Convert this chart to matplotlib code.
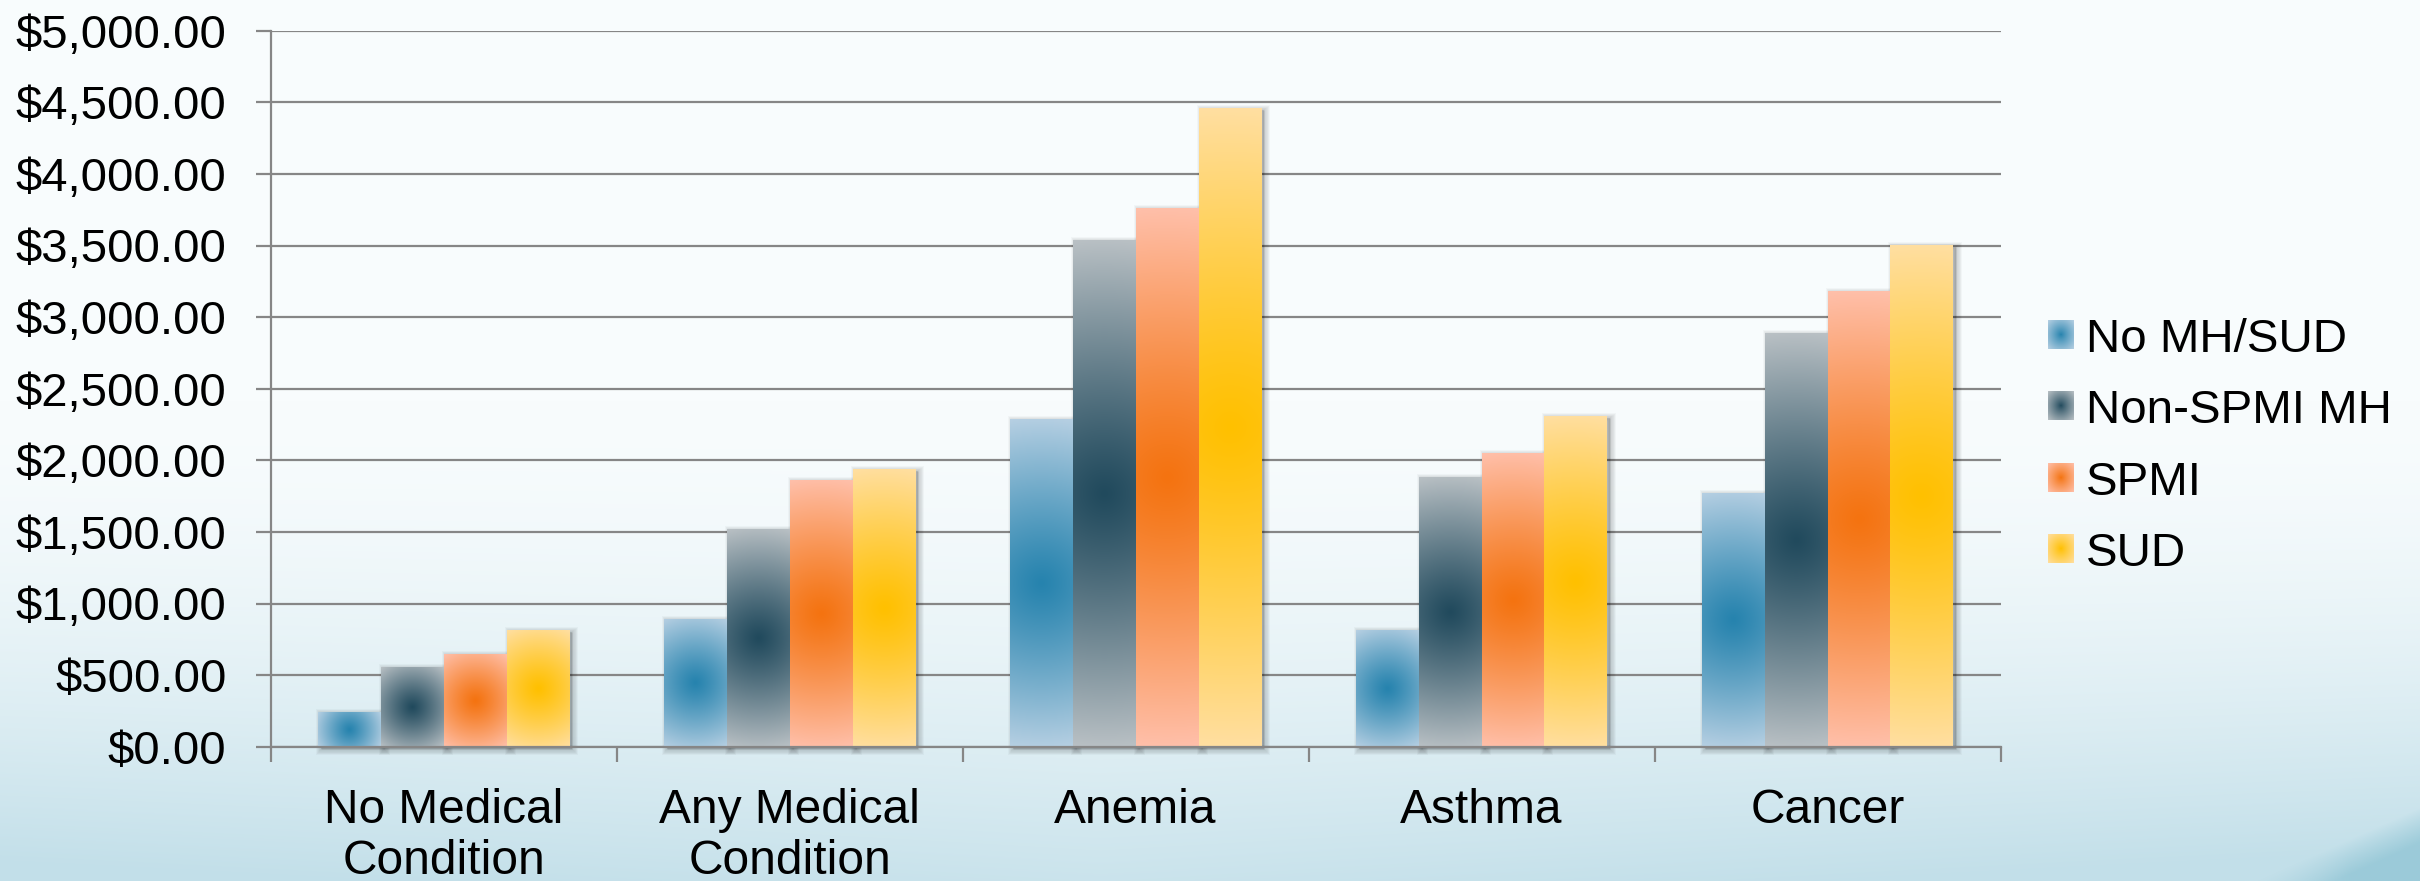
import numpy as np
import matplotlib
matplotlib.use("Agg")
import matplotlib.pyplot as plt
from matplotlib.patches import Rectangle, Patch
from matplotlib.legend_handler import HandlerBase
from matplotlib.image import BboxImage
from matplotlib.transforms import Bbox, TransformedBbox, offset_copy
from matplotlib.ticker import FuncFormatter

# ---- data -------------------------------------------------------------
categories = ["No Medical\nCondition", "Any Medical\nCondition", "Anemia", "Asthma", "Cancer"]
series_names = ["No MH/SUD", "Non-SPMI MH", "SPMI", "SUD"]
no_mh_sud = [244, 895, 2290, 817, 1774]
non_spmi_mh = [558, 1519, 3535, 1885, 2886]
spmi = [648, 1860, 3760, 2048, 3181]
sud = [815, 1937, 4458, 2306, 3502]
y_ticks = list(range(0, 5001, 500))

series_values = [no_mh_sud, non_spmi_mh, spmi, sud]
# (centre colour, edge colour) of each series' radial fill
series_colors = [("#2683ae", "#b7d0e3"),
                 ("#214a5d", "#bac1c5"),
                 ("#f47310", "#ffc0ab"),
                 ("#ffc000", "#ffdfa2")]

plt.rcParams["font.family"] = ["Liberation Sans", "DejaVu Sans"]

DPI = 100
W, H = 2420, 881
fig = plt.figure(figsize=(W / DPI, H / DPI), dpi=DPI)


def hex_rgb(c):
    c = c.lstrip("#")
    return np.array([int(c[i:i + 2], 16) for i in (0, 2, 4)], float) / 255


def radial_fill(w_px, h_px, c_center, c_edge, power=1.15):
    w_px = max(int(round(w_px)), 2)
    h_px = max(int(round(h_px)), 2)
    yy, xx = np.mgrid[0:h_px, 0:w_px].astype(float)
    cx, cy = (w_px - 1) / 2, (h_px - 1) / 2
    r = np.hypot(xx - cx, yy - cy) / np.hypot(w_px / 2, h_px / 2)
    t = np.clip(r, 0, 1) ** power
    c0, c1 = hex_rgb(c_center), hex_rgb(c_edge)
    return c0 * (1 - t[..., None]) + c1 * t[..., None]


# ---- background -------------------------------------------------------
bg = fig.add_axes([0, 0, 1, 1], zorder=-10)
bg.axis("off")
yy, xx = np.mgrid[0:H, 0:W].astype(float)
c_top = hex_rgb("#f8fcfd")
c_low = hex_rgb("#c2dfe9")
s = np.clip((yy - 400) / (H - 400), 0, 1) ** 1.7
s *= 0.85 + 0.25 * (np.abs(xx - 1100) / 1300)
s = np.clip(s, 0, 1)
img = c_top * (1 - s[..., None]) + c_low * s[..., None]
# darker swoosh in the lower right corner
y_curve = H + 25 - (xx - 2200) * 0.45
d = np.clip((yy - y_curve) / 35, 0, 1) * np.clip((xx - 2200) / 150, 0, 1)
c_sw = hex_rgb("#8fc4d4")
img = img * (1 - 0.75 * d[..., None]) + c_sw * 0.75 * d[..., None]
bg.imshow(img, extent=[0, 1, 0, 1], aspect="auto", origin="upper", interpolation="bilinear")
bg.set_xlim(0, 1)
bg.set_ylim(0, 1)

# ---- main axes --------------------------------------------------------
left_px, right_px, top_px, base_px = 270.7, 2000.5, 30.7, 746.7
ax = fig.add_axes([left_px / W, 1 - base_px / H, (right_px - left_px) / W, (base_px - top_px) / H])
ax.patch.set_alpha(0)
XLIM, YLIM = (-0.5, len(categories) - 0.5), (0, 5000)
ax.set_xlim(*XLIM)
ax.set_ylim(*YLIM)

grey = "#868686"
n_series = len(series_values)
bw = 1 / (n_series + 1.5)
x = np.arange(len(categories))

px_per_x = (right_px - left_px) / (XLIM[1] - XLIM[0])
px_per_y = (base_px - top_px) / (YLIM[1] - YLIM[0])
shadow_tr = offset_copy(ax.transData, fig=fig, x=3, y=-2, units="dots")

for i, (vals, (c0, c1)) in enumerate(zip(series_values, series_colors)):
    bars = ax.bar(x + (i - (n_series - 1) / 2) * bw, vals, bw,
                  color="none", edgecolor="none", zorder=4)
    for p in bars:
        x0, y0 = p.get_x(), p.get_y()
        w, h = p.get_width(), p.get_height()
        # soft drop shadow
        for k in range(6):
            ax.add_patch(Rectangle((x0, y0), w, h, transform=shadow_tr,
                                   facecolor=(0, 0, 0, 0.03), edgecolor=(0, 0, 0, 0.03),
                                   lw=(6 - k) * 1.3, zorder=3, clip_on=False))
        fill = radial_fill(w * px_per_x, h * px_per_y, c0, c1)
        im = ax.imshow(fill, extent=[x0, x0 + w, y0, y0 + h], aspect="auto",
                       origin="upper", interpolation="bilinear", zorder=4)
        im.set_clip_path(p)

ax.set_xlim(*XLIM)
ax.set_ylim(*YLIM)
ax.set_aspect("auto")

# grid and axes styling
ax.set_axisbelow(True)
ax.yaxis.grid(True, color=grey, lw=1.6)
ax.set_yticks(y_ticks)
ax.yaxis.set_major_formatter(FuncFormatter(lambda v, _: f"${v:,.2f}"))
ax.tick_params(axis="y", length=10.8, width=1.6, color=grey, pad=21, labelsize=34)

ax.set_xticks(x)
ax.set_xticklabels(categories, fontsize=34.5, linespacing=1.17)
ax.tick_params(axis="x", which="major", length=0, pad=30)
ax.set_xticks(np.arange(XLIM[0], XLIM[1] + 0.01, 1), minor=True)
ax.tick_params(axis="x", which="minor", length=10.8, width=1.6, color=grey)

for sp in ("top", "right"):
    ax.spines[sp].set_visible(False)
for sp in ("left", "bottom"):
    ax.spines[sp].set_color(grey)
    ax.spines[sp].set_linewidth(1.6)
ax.spines["bottom"].set_zorder(5)


# ---- legend -----------------------------------------------------------
class GradientHandler(HandlerBase):
    def __init__(self, c0, c1):
        super().__init__()
        self.c0, self.c1 = c0, c1

    def create_artists(self, legend, orig_handle, xdescent, ydescent,
                       width, height, fontsize, trans):
        box = TransformedBbox(Bbox.from_bounds(-xdescent, -ydescent, width, height), trans)
        im = BboxImage(box, interpolation="bilinear")
        im.set_data(radial_fill(25, 25, self.c0, self.c1, power=0.9))
        return [im]


handles = [Patch(label=n) for n in series_names]
handler_map = {h: GradientHandler(c0, c1) for h, (c0, c1) in zip(handles, series_colors)}
fig.legend(handles=handles, labels=series_names, handler_map=handler_map,
           loc="center left", bbox_to_anchor=(2048 / W, 1 - 447 / H),
           frameon=False, fontsize=34.2, handlelength=0.53, handleheight=0.53,
           handletextpad=0.26, labelspacing=0.58, borderpad=0, borderaxespad=0)

fig.savefig("out.png", dpi=DPI)
